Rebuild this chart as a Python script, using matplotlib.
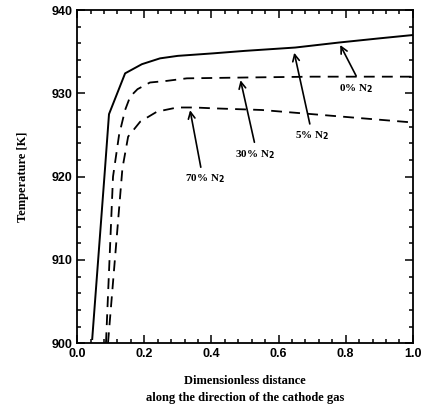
import matplotlib.pyplot as plt
from matplotlib.ticker import MultipleLocator

# curve data
x_0 = [0.045, 0.083, 0.095, 0.143, 0.193, 0.247, 0.30, 0.405, 0.50, 0.65, 0.78, 0.90, 1.0]
t_0 = [900.5, 920.9, 927.5, 932.4, 933.5, 934.2, 934.5, 934.8, 935.1, 935.5, 936.1, 936.6, 937.0]

x_30 = [0.086, 0.107, 0.125, 0.143, 0.158, 0.18, 0.217, 0.268, 0.327, 0.50, 0.70, 1.0]
t_30 = [900.0, 920.0, 925.0, 928.0, 929.6, 930.5, 931.3, 931.5, 931.8, 931.9, 932.0, 932.0]

x_70 = [0.092, 0.135, 0.152, 0.188, 0.238, 0.298, 0.35, 0.405, 0.55, 0.70, 0.85, 1.0]
t_70 = [900.0, 921.0, 924.8, 926.6, 927.8, 928.3, 928.3, 928.2, 928.0, 927.5, 927.0, 926.5]

labels = ['0% N$_2$', '5% N$_2$', '30% N$_2$', '70% N$_2$']
label_xy = [(0.83, 930.6), (0.70, 924.9), (0.53, 922.7), (0.38, 919.8)]
arrow_tail = [(0.835, 931.8), (0.695, 926.0), (0.53, 923.8), (0.37, 920.8)]
arrow_tip = [(0.78, 936.1), (0.645, 935.2), (0.485, 931.9), (0.335, 928.3)]

plt.rcParams['font.family'] = 'Liberation Serif'
plt.rcParams['font.weight'] = 'bold'

fig = plt.figure(figsize=(4.26, 4.19), dpi=100)
ax = fig.add_axes([0.181, 0.181, 0.788, 0.795])

ax.plot(x_0, t_0, color='black', lw=1.4, ls='-')
ax.plot(x_30, t_30, color='black', lw=1.3, ls=(0, (6, 4)))
ax.plot(x_70, t_70, color='black', lw=1.3, ls=(0, (6, 4)))

for lab, pxy, tail, tip in zip(labels, label_xy, arrow_tail, arrow_tip):
    ax.text(pxy[0], pxy[1], lab, ha='center', va='center', fontsize=8, fontweight='bold')
    ax.annotate('', xy=tip, xytext=tail,
                arrowprops=dict(arrowstyle='->', color='black', lw=1.2, mutation_scale=12))

ax.set_xlim(0.0, 1.0)
ax.set_ylim(900, 940)
ax.xaxis.set_major_locator(MultipleLocator(0.2))
ax.xaxis.set_minor_locator(MultipleLocator(0.04))
ax.yaxis.set_major_locator(MultipleLocator(10))
ax.yaxis.set_minor_locator(MultipleLocator(2))
ax.tick_params(which='both', direction='in', top=True, right=True, width=1.1)
ax.tick_params(which='major', length=6, labelsize=9)
ax.tick_params(which='minor', length=3)
ax.xaxis.set_major_formatter(plt.FuncFormatter(lambda v, p: f'{v:.1f}'))
for lbl in ax.get_xticklabels() + ax.get_yticklabels():
    lbl.set_fontweight('bold')
    lbl.set_family('Liberation Sans')
for s in ax.spines.values():
    s.set_linewidth(1.3)

ax.set_ylabel('Temperature [K]', fontsize=9, fontweight='bold', labelpad=16)
ax.set_xlabel('Dimensionless distance\nalong the direction of the cathode gas',
              fontsize=9, fontweight='bold', labelpad=11, linespacing=1.5)

fig.savefig('out.png', dpi=100)
